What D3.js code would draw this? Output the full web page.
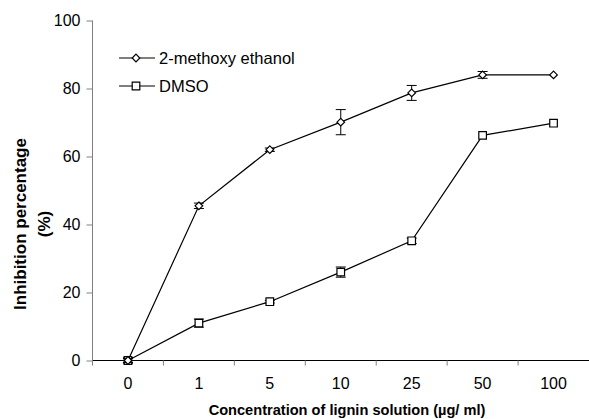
<!DOCTYPE html>
<html>
<head>
<meta charset="utf-8">
<script src="https://cdn.jsdelivr.net/npm/d3@7"></script>
<style>
body { margin: 0; background: #fff; }
text { font-family: Arial, "Liberation Sans", sans-serif; }
</style>
</head>
<body>
<div id="graphic"></div>
<script>
var categories = ["0", "1", "5", "10", "25", "50", "100"];
var methoxy = [0, 45.5, 62, 70.1, 78.7, 84, 84];
var methoxyErr = [0.6, 0.8, 0.5, 3.7, 2.2, 1, 0];
var dmso = [0, 11, 17.3, 26, 35.2, 66.2, 69.8];
var dmsoErr = [0.8, 1.2, 0.4, 1.5, 0.8, 0, 0];
var yTicks = [0, 20, 40, 60, 80, 100];

var width = 589, height = 419;
var plotLeft = 92.5, plotRight = 589, plotTop = 20.5, plotBottom = 360.5;

var svg = d3.select("#graphic").append("svg").attr("width", width).attr("height", height);

var x = d3.scaleBand().domain(categories).range([plotLeft, plotRight]);
var y = d3.scaleLinear().domain([0, 100]).range([plotBottom, plotTop]);

// y axis
var ya = svg.append("g").attr("transform", "translate(" + plotLeft + ",0)")
  .call(d3.axisLeft(y).tickValues(yTicks).tickSize(6).tickPadding(6));
ya.select(".domain").attr("stroke", "#808080").attr("d", "M0," + plotTop + "V" + plotBottom);
ya.selectAll(".tick line").attr("stroke", "#808080");
ya.selectAll(".tick text").attr("font-size", 16).attr("fill", "#000");

// x axis
var xa = svg.append("g").attr("transform", "translate(0," + plotBottom + ")")
  .call(d3.axisBottom(x).tickSize(0).tickPadding(17));
xa.select(".domain").attr("stroke", "#000").attr("d", "M" + plotLeft + ",0H" + plotRight);
xa.selectAll(".tick text").attr("font-size", 16).attr("fill", "#000");
xa.selectAll(".sep").data(categories.slice(1)).enter().append("line")
  .attr("x1", function(d) { return x(d); }).attr("x2", function(d) { return x(d); })
  .attr("y1", 0).attr("y2", 5).attr("stroke", "#808080");
xa.append("line").attr("x1", plotLeft).attr("x2", plotLeft).attr("y1", 0).attr("y2", 5).attr("stroke", "#808080");

// titles
svg.append("text").attr("x", 347).attr("y", 415).attr("text-anchor", "middle")
  .attr("font-size", 14.6).attr("font-weight", "bold").text("Concentration of lignin solution (\u00b5g/ ml)");
var yt = svg.append("text").attr("transform", "translate(26,224) rotate(-90)")
  .attr("text-anchor", "middle").attr("font-size", 17).attr("font-weight", "bold");
yt.append("tspan").attr("x", 0).attr("dy", 0).text("Inhibition percentage");
yt.append("tspan").attr("x", 0).attr("dy", 24).text("(%)");

var cx = function(i) { return x(categories[i]) + x.bandwidth() / 2; };
var line = d3.line().x(function(d, i) { return cx(i); }).y(function(d) { return y(d); });

function series(vals, errs, shape) {
  var g = svg.append("g");
  g.append("path").datum(vals).attr("d", line).attr("fill", "none").attr("stroke", "#000").attr("stroke-width", 1.2);
  var eb = g.selectAll(".eb").data(vals).enter().append("g");
  eb.append("line").attr("x1", function(d, i) { return cx(i); }).attr("x2", function(d, i) { return cx(i); })
    .attr("y1", function(d, i) { return y(d - errs[i]); }).attr("y2", function(d, i) { return y(d + errs[i]); })
    .attr("stroke", "#000");
  [-1, 1].forEach(function(s) {
    eb.append("line").attr("x1", function(d, i) { return cx(i) - 5; }).attr("x2", function(d, i) { return cx(i) + 5; })
      .attr("y1", function(d, i) { return y(d + s * errs[i]); }).attr("y2", function(d, i) { return y(d + s * errs[i]); })
      .attr("stroke", "#000").attr("opacity", function(d, i) { return errs[i] > 0 ? 1 : 0; });
  });
  g.selectAll(".m").data(vals).enter().append("path")
    .attr("transform", function(d, i) { return "translate(" + cx(i) + "," + y(d) + ")"; })
    .attr("d", shape).attr("fill", "#fff").attr("stroke", "#000").attr("stroke-width", 1.2);
}

var diamond = "M0,-3.8L3.8,0L0,3.8L-3.8,0Z";
var square = "M-3.8,-3.8H3.8V3.8H-3.8Z";
series(dmso, dmsoErr, square);
series(methoxy, methoxyErr, diamond);

// legend
var legend = [{name: "2-methoxy ethanol", shape: diamond, y: 58}, {name: "DMSO", shape: square, y: 86}];
var lg = svg.selectAll(".lg").data(legend).enter().append("g")
  .attr("transform", function(d) { return "translate(119," + d.y + ")"; });
lg.append("line").attr("x1", 0).attr("x2", 36).attr("stroke", "#000").attr("stroke-width", 1.2);
lg.append("path").attr("transform", "translate(17,0)").attr("d", function(d) { return d.shape; })
  .attr("fill", "#fff").attr("stroke", "#000").attr("stroke-width", 1.2);
lg.append("text").attr("x", 40).attr("dy", "0.35em").attr("font-size", 16.5).text(function(d) { return d.name; });
</script>
</body>
</html>
